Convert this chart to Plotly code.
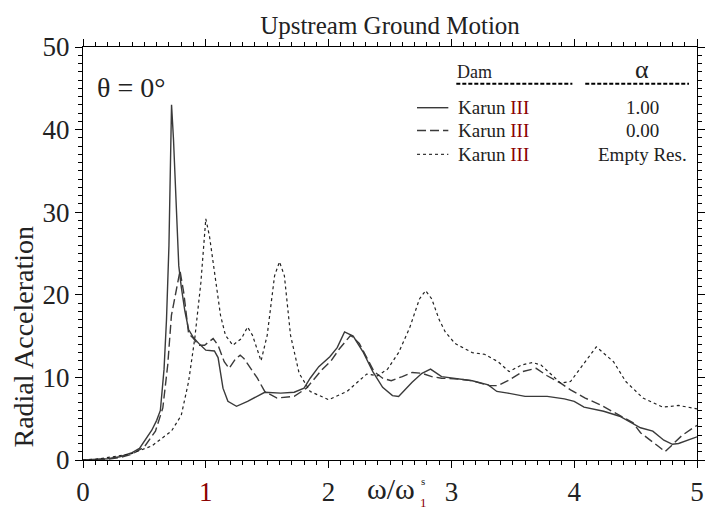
import plotly.graph_objects as go

# frequency ratio / radial acceleration
x_full = [0, 0.1, 0.2, 0.3, 0.4, 0.46, 0.51, 0.56, 0.6, 0.63, 0.66, 0.68, 0.70, 0.715, 0.721,
          0.737, 0.753, 0.78, 0.80, 0.83, 0.86, 0.90, 0.95, 1.0, 1.07, 1.10, 1.14, 1.18, 1.25,
          1.34, 1.48, 1.61, 1.72, 1.80, 1.85, 1.92, 2.01, 2.07, 2.13, 2.20, 2.28, 2.36, 2.44,
          2.52, 2.57, 2.68, 2.76, 2.83, 2.92, 3.03, 3.17, 3.30, 3.37, 3.46, 3.60, 3.78, 3.92,
          4.0, 4.08, 4.24, 4.37, 4.54, 4.64, 4.73, 4.80, 4.85, 5.0]
y_full = [0, 0.05, 0.15, 0.4, 0.9, 1.4, 2.5, 3.6, 4.8, 6.0, 11.0, 17.0, 26.0, 38.8, 43.0,
          38.8, 32.8, 23.5, 21.0, 18.0, 15.8, 14.8, 14.0, 13.3, 13.2, 12.4, 8.7, 7.1, 6.5,
          7.1, 8.2, 8.1, 8.2, 8.7, 9.9, 11.3, 12.5, 13.6, 15.5, 15.0, 13.1, 10.7, 8.8,
          7.8, 7.7, 9.4, 10.5, 11.0, 10.1, 9.9, 9.6, 9.1, 8.3, 8.1, 7.7, 7.7, 7.4,
          7.1, 6.4, 5.9, 5.3, 3.9, 3.5, 2.4, 1.9, 2.0, 2.8]

x_zero = [0, 0.2, 0.3, 0.4, 0.5, 0.59, 0.65, 0.69, 0.72, 0.77, 0.79, 0.82, 0.85, 0.86, 0.90,
          0.94, 0.99, 1.06, 1.10, 1.15, 1.19, 1.24, 1.28, 1.31, 1.42, 1.48, 1.58, 1.72, 1.82,
          1.95, 2.02, 2.09, 2.18, 2.25, 2.30, 2.37, 2.44, 2.51, 2.60, 2.68, 2.76, 2.84, 2.92,
          3.06, 3.17, 3.31, 3.38, 3.46, 3.58, 3.69, 3.78, 3.89, 3.97, 4.09, 4.21, 4.29, 4.37,
          4.48, 4.54, 4.69, 4.74, 4.88, 5.0]
y_zero = [0, 0.1, 0.3, 0.7, 1.6, 3.5, 6.3, 11.5, 17.5, 21.5, 22.9, 20.3, 16.3, 15.3, 14.7,
          13.9, 13.9, 14.7, 13.9, 11.9, 11.1, 12.2, 12.7, 12.3, 9.9, 8.3, 7.5, 7.7, 8.7,
          11.0, 12.0, 13.5, 15.1, 14.1, 12.7, 10.7, 9.9, 9.6, 10.1, 10.6, 10.5, 10.1, 9.9,
          9.8, 9.6, 9.0, 9.0, 9.6, 10.7, 11.1, 10.2, 9.3, 8.5, 7.5, 6.7, 6.0, 5.4,
          4.5, 3.3, 1.6, 1.0, 3.0, 4.2]

x_empty = [0, 0.11, 0.38, 0.56, 0.72, 0.80, 0.86, 0.91, 0.96, 1.0, 1.03, 1.08, 1.12, 1.16,
           1.22, 1.29, 1.34, 1.38, 1.45, 1.50, 1.56, 1.60, 1.64, 1.69, 1.76, 1.85, 2.0, 2.15,
           2.31, 2.40, 2.48, 2.57, 2.66, 2.74, 2.79, 2.84, 2.90, 2.95, 3.03, 3.17, 3.27, 3.38,
           3.47, 3.57, 3.66, 3.73, 3.89, 3.97, 4.08, 4.18, 4.32, 4.42, 4.56, 4.72, 4.85, 5.0]
y_empty = [0, 0.1, 0.7, 1.7, 3.5, 5.4, 9.5, 14.7, 21.5, 29.2, 27.1, 21.5, 17.5, 15.1,
           13.9, 14.7, 16.1, 15.1, 12.0, 15.1, 22.3, 24.0, 22.3, 15.1, 10.5, 8.3, 7.3, 8.3,
           10.4, 10.2, 11.0, 13.0, 16.0, 19.5, 20.5, 19.5, 17.0, 15.5, 14.1, 13.0, 12.8, 11.9,
           10.7, 11.5, 11.8, 11.5, 9.3, 9.5, 11.7, 13.7, 11.9, 9.5, 7.5, 6.4, 6.6, 6.2]

x_ticks = [0, 1, 2, 3, 4, 5]
x_ticktext = ["0", "<span style='color:#8b0000'>1</span>", "2", "3", "4", "5"]
y_ticks = [0, 10, 20, 30, 40, 50]

alpha_labels = ["1.00", "0.00", "Empty Res."]

FONT = "Liberation Serif"
INK = "#222222"

fig = go.Figure()
fig.add_trace(go.Scatter(x=x_full, y=y_full, mode="lines",
                         line=dict(color="#3a3a3a", width=1.4)))
fig.add_trace(go.Scatter(x=x_zero, y=y_zero, mode="lines",
                         line=dict(color="#3a3a3a", width=1.4, dash="9px,4px")))
fig.add_trace(go.Scatter(x=x_empty, y=y_empty, mode="lines",
                         line=dict(color="#222222", width=1.2, dash="3px,3px")))

# page body has an 8px margin, so the figure is made 8px smaller and shifted by that
fig.update_layout(
    width=706, height=508,
    margin=dict(l=75, r=9, t=39, b=54),
    plot_bgcolor="white", paper_bgcolor="white",
    showlegend=False,
    font=dict(family=FONT, color=INK),
    title=dict(text="Upstream Ground Motion", x=0.5, xref="paper",
               y=1 - 17 / 508, yref="container", yanchor="middle",
               font=dict(size=25, family=FONT, color=INK)),
)

axis_common = dict(showline=True, linecolor="black", linewidth=1.2, mirror="allticks",
                   ticks="outside", ticklen=7, tickcolor="black", tickwidth=1,
                   showgrid=False, zeroline=False,
                   tickfont=dict(size=27, family=FONT, color=INK))
fig.update_xaxes(range=[0, 5], tickvals=x_ticks, ticktext=x_ticktext,
                 minor=dict(dtick=0.1, ticklen=4, tickcolor="black", ticks="outside"),
                 **axis_common)
fig.update_yaxes(range=[0, 50], tickvals=y_ticks,
                 minor=dict(dtick=1, ticklen=4, tickcolor="black", ticks="outside"),
                 **axis_common)


def note(text, x, y, size, xa="center", ya="middle", color=INK, angle=0):
    fig.add_annotation(text=text, x=x, y=y, xref="paper", yref="paper", xanchor=xa,
                       yanchor=ya, textangle=angle, showarrow=False,
                       font=dict(size=size, family=FONT, color=color))


# axis titles
note("Radial Acceleration", -0.097, 0.30, 28, angle=-90)
note("ω/ω", 0.502, -0.07, 30)
note("s", 0.553, -0.05, 11)
note("1", 0.555, -0.104, 13, color="#8b0000")

note("θ = 0°", 0.019, 0.901, 28, xa="left")

# legend table drawn by hand
note("Dam", 0.606, 0.94, 18, xa="left")
note("α", 0.91, 0.945, 26)
fig.add_shape(type="line", xref="paper", yref="paper", x0=0.608, x1=0.797, y0=0.911, y1=0.911,
              line=dict(color="black", width=2, dash="4px,2px"))
fig.add_shape(type="line", xref="paper", yref="paper", x0=0.818, x1=0.987, y0=0.911, y1=0.911,
              line=dict(color="black", width=2, dash="4px,2px"))

row_y = [0.853, 0.798, 0.740]
row_dash = ["solid", "9px,4px", "3px,3px"]
for i in range(3):
    fig.add_shape(type="line", xref="paper", yref="paper", x0=0.544, x1=0.595,
                  y0=row_y[i], y1=row_y[i], line=dict(color="#3a3a3a", width=1.4, dash=row_dash[i]))
    note("Karun <span style='color:#8b0000'>III</span>", 0.608, row_y[i], 19, xa="left")
    note(alpha_labels[i], 0.912, row_y[i], 19)

fig.write_html("out.html")
